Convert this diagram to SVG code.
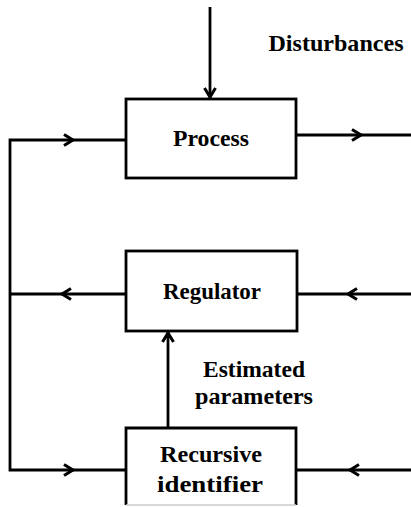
<svg xmlns="http://www.w3.org/2000/svg" width="411" height="507" viewBox="0 0 411 507">
<style>
.box{fill:#fff;stroke:#000;stroke-width:2.8}
.ln{fill:none;stroke:#000;stroke-width:2.8}
.ch{fill:none;stroke:#000;stroke-width:3;stroke-linejoin:miter}
text{font-family:"Liberation Serif","Times New Roman",serif;font-weight:bold;font-size:24px;fill:#000;text-anchor:middle}
</style>
<defs>
<path id="chev" d="M-9,-5.5 L0,0 L-9,5.5" class="ch"/>
</defs>
<rect width="411" height="507" fill="#fff"/>
<g id="connectors">
<line class="ln" x1="210" y1="7" x2="210" y2="99"/>
<use href="#chev" transform="translate(210,97) rotate(90)"/>
<polyline class="ln" points="126,140 10,140 10,470 126,470"/>
<use href="#chev" transform="translate(73,140)"/>
<use href="#chev" transform="translate(73,470)"/>
<line class="ln" x1="296" y1="135" x2="411" y2="135"/>
<use href="#chev" transform="translate(361,135)"/>
<line class="ln" x1="10" y1="294" x2="126" y2="294"/>
<use href="#chev" transform="translate(62,294) rotate(180)"/>
<line class="ln" x1="297" y1="294" x2="411" y2="294"/>
<use href="#chev" transform="translate(348,294) rotate(180)"/>
<line class="ln" x1="297" y1="470" x2="411" y2="470"/>
<use href="#chev" transform="translate(350,470) rotate(180)"/>
<line class="ln" x1="168" y1="428" x2="168" y2="331"/>
<use href="#chev" transform="translate(168,333) rotate(-90)"/>
</g>
<g id="disturbances-label"><text x="336" y="51" textLength="135" lengthAdjust="spacingAndGlyphs">Disturbances</text></g>
<g id="process">
<rect class="box" x="126" y="99" width="170" height="79"/>
<text x="211" y="146" textLength="76" lengthAdjust="spacingAndGlyphs">Process</text>
</g>
<g id="regulator">
<rect class="box" x="126" y="251" width="171" height="80"/>
<text x="212" y="299" textLength="98" lengthAdjust="spacingAndGlyphs">Regulator</text>
</g>
<g id="estimated-label">
<text x="254" y="377" textLength="102" lengthAdjust="spacingAndGlyphs">Estimated</text>
<text x="254" y="404" textLength="118" lengthAdjust="spacingAndGlyphs">parameters</text>
</g>
<g id="identifier">
<path d="M126,505 V428 H296 V505" fill="#fff" stroke="#000" stroke-width="2.8"/>
<line x1="126" y1="505" x2="296" y2="505" stroke="#ccc" stroke-width="1.5"/>
<text x="211" y="462" textLength="102" lengthAdjust="spacingAndGlyphs">Recursive</text>
<text x="210" y="492" textLength="106" lengthAdjust="spacingAndGlyphs">identifier</text>
</g>
</svg>
